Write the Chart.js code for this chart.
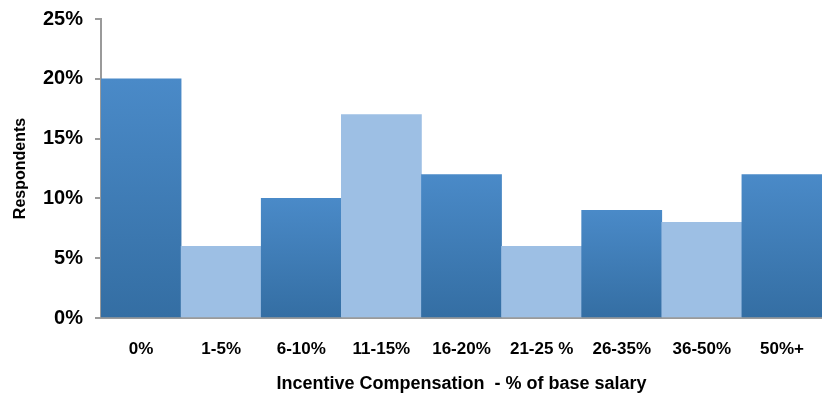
<!DOCTYPE html>
<html>
<head>
<meta charset="utf-8">
<script src="https://cdn.jsdelivr.net/npm/chart.js@4/dist/chart.umd.min.js"></script>
<style>
  html, body { margin: 0; padding: 0; background: #fff; }
  #wrap { width: 822px; height: 395px; }
</style>
</head>
<body>
<div id="wrap"><canvas id="chart_Comp"></canvas></div>
<script>
var categories = ["0%", "1-5%", "6-10%", "11-15%", "16-20%", "21-25 %", "26-35%", "36-50%", "50%+"];
var respondents = [20, 6, 10, 17, 12, 6, 9, 8, 12];
var shade = ["dark", "light", "dark", "light", "dark", "light", "dark", "light", "dark"];
var yTicks = [0, 5, 10, 15, 20, 25];

function barColor(ctx) {
  if (shade[ctx.dataIndex] == "light") return "#9DBFE4";
  var chart = ctx.chart;
  var area = chart.chartArea;
  if (!area || !chart.scales.y) return "#4080BE";
  var y = chart.scales.y;
  var top = y.getPixelForValue(respondents[ctx.dataIndex]);
  var bottom = y.getPixelForValue(0);
  var g = chart.ctx.createLinearGradient(0, top, 0, bottom);
  g.addColorStop(0, "#4A8AC8");
  g.addColorStop(1, "#346EA3");
  return g;
}

var font = "'Liberation Sans', Arial, sans-serif";

new Chart(document.getElementById("chart_Comp"), {
  type: 'bar',
  data: {
    labels: categories,
    datasets: [{
      label: "Respondents",
      data: respondents,
      backgroundColor: barColor,
      borderWidth: 0,
      barPercentage: 1.0,
      categoryPercentage: 1.0
    }]
  },
  options: {
    responsive: true,
    maintainAspectRatio: false,
    animation: false,
    layout: { padding: { top: 19, right: 0, bottom: 0, left: 0 } },
    plugins: {
      legend: { display: false },
      tooltip: { enabled: false }
    },
    scales: {
      x: {
        grid: { display: false, drawTicks: false },
        border: { display: true, color: "#9A9A9A", width: 2 },
        ticks: {
          color: "#000",
          font: { family: font, size: 17, weight: "bold" },
          padding: 21,
          maxRotation: 0
        },
        title: {
          display: true,
          text: "Incentive Compensation  - % of base salary",
          color: "#000",
          font: { family: font, size: 18, weight: "bold" },
          padding: { top: 6, bottom: 0 }
        },
        afterFit: function (s) { s.height = 77; s.paddingLeft = 0; s.paddingRight = 0; }
      },
      y: {
        min: 0,
        max: 25,
        afterBuildTicks: function (s) { s.ticks = yTicks.map(function (v) { return { value: v }; }); },
        grid: { drawOnChartArea: false, drawTicks: true, tickLength: 6, color: "#9A9A9A", lineWidth: 2 },
        border: { display: true, color: "#9A9A9A", width: 2 },
        ticks: {
          color: "#000",
          font: { family: font, size: 20, weight: "bold" },
          padding: 12,
          callback: function (v) { return v + "%"; }
        },
        title: {
          display: true,
          text: "Respondents",
          color: "#000",
          font: { family: font, size: 16, weight: "bold" },
          padding: { top: 11, bottom: 0 }
        },
        afterFit: function (s) { s.width = 101; s.paddingTop = 0; s.paddingBottom = 0; }
      }
    }
  }
});
</script>
</body>
</html>
